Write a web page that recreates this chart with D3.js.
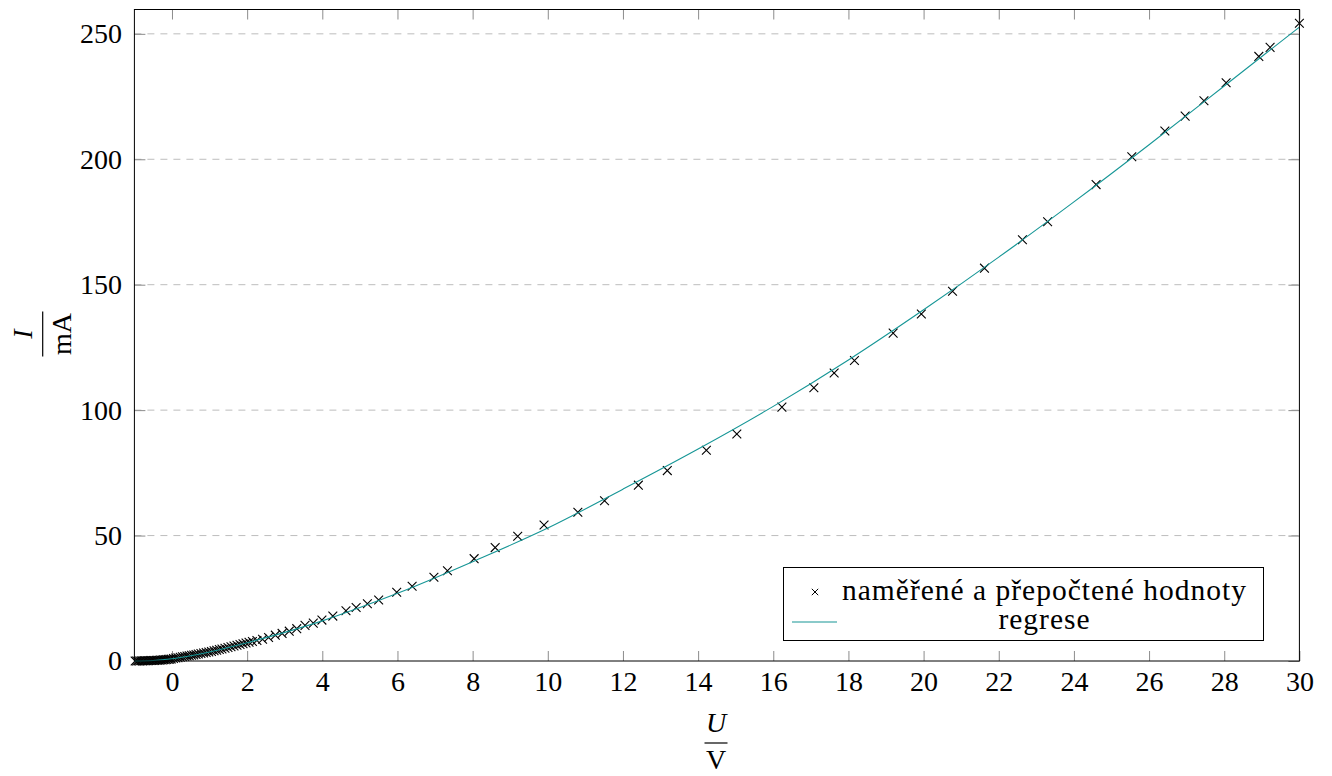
<!DOCTYPE html>
<html>
<head>
<meta charset="utf-8">
<script src="https://cdn.jsdelivr.net/npm/d3@7"></script>
<style>
  body { margin: 0; background: #fff; }
  svg { display: block; }
</style>
</head>
<body>
<div id="canvas"></div>
<script>
// measured U (V) and I (mA) values
const measU = [
  -0.98, -0.94, -0.90, -0.86, -0.82, -0.78, -0.74, -0.70, -0.66, -0.62,
  -0.58, -0.54, -0.50, -0.46, -0.42, -0.38, -0.34, -0.30, -0.26, -0.22,
  -0.18, -0.14, -0.10, -0.06, -0.02, 0.04, 0.10, 0.16, 0.22, 0.28,
  0.34, 0.40, 0.46, 0.52, 0.58, 0.64, 0.70, 0.77, 0.84, 0.91,
  0.98, 1.05, 1.12, 1.19, 1.26, 1.33, 1.41, 1.49, 1.57, 1.65,
  1.73, 1.81, 1.89, 1.97, 2.05, 2.14, 2.26, 2.41, 2.57, 2.75,
  2.93, 3.12, 3.32, 3.54, 3.76, 3.99, 4.28, 4.63, 4.90, 5.20,
  5.50, 5.98, 6.39, 6.97, 7.33, 8.04, 8.60, 9.20, 9.90, 10.80,
  11.51, 12.41, 13.18, 14.22, 15.03, 16.23, 17.08, 17.62, 18.16, 19.19,
  19.94, 20.77, 21.62, 22.63, 23.30, 24.59, 25.54, 26.42, 26.96, 27.46,
  28.05, 28.92, 29.22, 30.00
];
const measI = [
  0.0, 0.0, 0.0, 0.0, 0.1, 0.0, 0.1, 0.1, 0.1, 0.1,
  0.2, 0.2, 0.2, 0.2, 0.3, 0.3, 0.3, 0.4, 0.4, 0.5,
  0.5, 0.6, 0.7, 0.7, 0.8, 1.0, 1.2, 1.3, 1.5, 1.7,
  1.8, 2.0, 2.1, 2.3, 2.4, 2.6, 2.8, 3.0, 3.2, 3.4,
  3.6, 3.8, 4.1, 4.3, 4.6, 4.8, 5.1, 5.4, 5.7, 6.0,
  6.3, 6.6, 6.9, 7.2, 7.5, 7.8, 8.2, 8.7, 9.4, 10.3,
  11.0, 11.9, 12.9, 14.2, 15.1, 16.3, 17.9, 20.0, 21.3, 22.8,
  24.3, 27.4, 29.8, 33.4, 36.0, 40.8, 45.2, 49.7, 54.2, 59.3,
  63.9, 70.1, 75.9, 84.0, 90.5, 101.2, 108.9, 114.8, 119.8, 130.7,
  138.3, 147.4, 156.6, 167.9, 175.1, 189.9, 201.0, 211.3, 217.2, 223.3,
  230.5, 241.0, 244.6, 254.2
];

// regression curve
const regU = [-1, -0.5, 0, 0.5, 1, 1.5, 2, 3, 4, 5, 6, 8, 10, 12, 14, 16, 18, 20, 22, 24, 26, 28, 30];
const regI = [0.0, 0.2, 0.9, 2.1, 3.6, 5.4, 7.3, 11.4, 16.0, 21.3, 27.0, 39.6, 53.0, 68.5, 84.5, 101.5, 120.0, 140.0, 161.0, 183.0, 205.8, 229.2, 252.7];

// ticks
const xTicks = [0, 2, 4, 6, 8, 10, 12, 14, 16, 18, 20, 22, 24, 26, 28, 30];
const yTicks = [0, 50, 100, 150, 200, 250];
const gridTicks = [50, 100, 150, 200, 250];

const legendLabels = ['naměřené a přepočtené hodnoty', 'regrese'];

// dimensions
const widthSvg = 1332;
const heightSvg = 776;
const plotLeft = 134.4;
const plotRight = 1299.4;
const plotTop = 9.5;
const plotBottom = 661;

const font = '"Liberation Serif", "DejaVu Serif", serif';
const teal = '#169696';

const svg = d3.select('#canvas')
  .append('svg')
  .attr('width', widthSvg)
  .attr('height', heightSvg)
  .style('font-family', font);

const x = d3.scaleLinear().domain([-1, 30]).range([plotLeft, plotRight]);
const y = d3.scaleLinear().domain([0, 259.7]).range([plotBottom, plotTop]);

// dashed horizontal grid
svg.append('g')
  .selectAll('line')
  .data(gridTicks)
  .enter()
  .append('line')
  .attr('x1', plotLeft)
  .attr('x2', plotRight)
  .attr('y1', d => y(d))
  .attr('y2', d => y(d))
  .style('stroke', '#bdbdbd')
  .style('stroke-width', 1)
  .style('stroke-dasharray', '7,6');

// axes with inward ticks
function styleAxis(g) {
  g.select('.domain').remove();
  g.selectAll('.tick line').style('stroke', '#8c8c8c').style('stroke-width', 1);
  g.selectAll('.tick text')
    .style('font-family', font)
    .style('font-size', '28px')
    .style('fill', '#000');
}

svg.append('g')
  .attr('transform', `translate(0,${plotBottom})`)
  .call(d3.axisBottom(x).tickValues(xTicks).tickSizeInner(-10).tickSizeOuter(0).tickPadding(10))
  .call(styleAxis);

svg.append('g')
  .attr('transform', `translate(0,${plotTop})`)
  .call(d3.axisTop(x).tickValues(xTicks).tickSizeInner(-10).tickSizeOuter(0).tickFormat(''))
  .call(styleAxis);

svg.append('g')
  .attr('transform', `translate(${plotLeft},0)`)
  .call(d3.axisLeft(y).tickValues(yTicks).tickSizeInner(-11).tickSizeOuter(0).tickPadding(12.5))
  .call(styleAxis);

svg.append('g')
  .attr('transform', `translate(${plotRight},0)`)
  .call(d3.axisRight(y).tickValues(yTicks).tickSizeInner(-11).tickSizeOuter(0).tickFormat(''))
  .call(styleAxis);

// measured points as crosses
const cross = s => `M${-s},${-s}L${s},${s}M${-s},${s}L${s},${-s}`;

svg.append('g')
  .selectAll('path')
  .data(measU.map((u, i) => [u, measI[i]]))
  .enter()
  .append('path')
  .attr('transform', d => `translate(${x(d[0])},${y(d[1])})`)
  .attr('d', cross(4.4))
  .style('fill', 'none')
  .style('stroke', '#000')
  .style('stroke-width', 1.1);

// regression line
const line = d3.line()
  .x(d => x(d[0]))
  .y(d => y(d[1]))
  .curve(d3.curveMonotoneX);

svg.append('path')
  .datum(regU.map((u, i) => [u, regI[i]]))
  .attr('d', line)
  .style('fill', 'none')
  .style('stroke', teal)
  .style('stroke-width', 1.1);

// frame
svg.append('rect')
  .attr('x', plotLeft)
  .attr('y', plotTop)
  .attr('width', plotRight - plotLeft)
  .attr('height', plotBottom - plotTop)
  .style('fill', 'none')
  .style('stroke', '#000')
  .style('stroke-width', 1);

// x axis label U / V
const xLab = svg.append('g').attr('transform', 'translate(716,0)')
  .style('font-size', '28px');
xLab.append('text')
  .attr('y', 732)
  .attr('text-anchor', 'middle')
  .style('font-style', 'italic')
  .text('U');
xLab.append('line')
  .attr('x1', -11.5).attr('x2', 11.5)
  .attr('y1', 743).attr('y2', 743)
  .style('stroke', '#000').style('stroke-width', 1.2);
xLab.append('text')
  .attr('y', 769)
  .attr('text-anchor', 'middle')
  .text('V');

// y axis label I / mA, rotated
const yLab = svg.append('g').attr('transform', 'translate(42.7,334) rotate(-90)')
  .style('font-size', '28px');
yLab.append('text')
  .attr('y', -11)
  .attr('text-anchor', 'middle')
  .style('font-style', 'italic')
  .text('I');
yLab.append('line')
  .attr('x1', -22.5).attr('x2', 22.5)
  .attr('y1', 0).attr('y2', 0)
  .style('stroke', '#000').style('stroke-width', 1.2);
yLab.append('text')
  .attr('y', 28)
  .attr('text-anchor', 'middle')
  .text('mA');

// legend box
const legend = svg.append('g').attr('class', 'legend');

legend.append('rect')
  .attr('x', 783.5)
  .attr('y', 567.5)
  .attr('width', 480)
  .attr('height', 73)
  .style('fill', '#fff')
  .style('stroke', '#000')
  .style('stroke-width', 1);

legend.append('path')
  .attr('transform', 'translate(815,592)')
  .attr('d', cross(3.2))
  .style('fill', 'none')
  .style('stroke', '#000')
  .style('stroke-width', 1);

legend.append('line')
  .attr('x1', 792).attr('x2', 837)
  .attr('y1', 622).attr('y2', 622)
  .style('stroke', teal)
  .style('stroke-width', 1.1);

legend.selectAll('text')
  .data(legendLabels)
  .enter()
  .append('text')
  .attr('x', 1044.5)
  .attr('y', (d, i) => 600 + i * 29)
  .attr('text-anchor', 'middle')
  .style('font-size', '29.5px')
  .style('letter-spacing', '1px')
  .text(d => d);
</script>
</body>
</html>
